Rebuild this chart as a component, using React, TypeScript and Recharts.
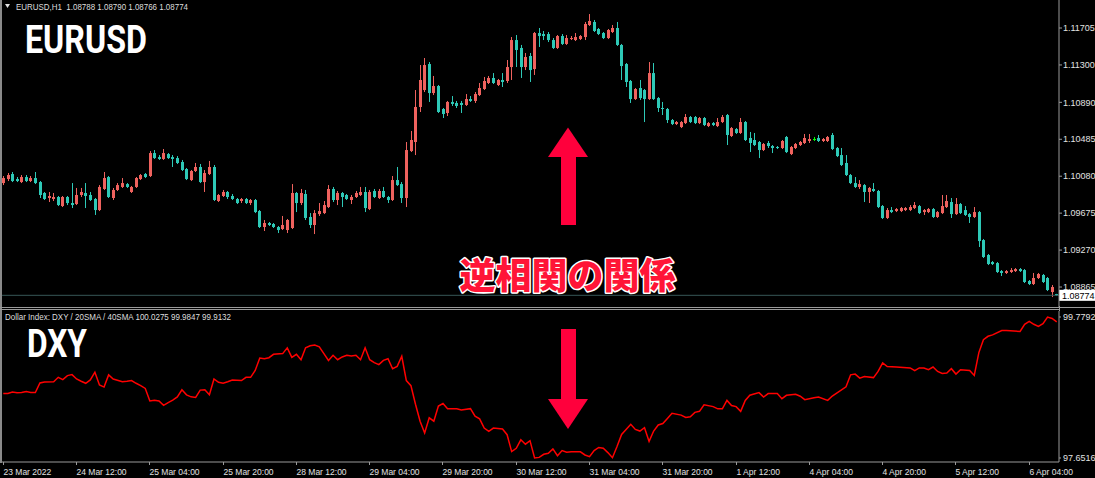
import React from 'react';
import { ComposedChart, Bar, XAxis, YAxis, ReferenceLine, LineChart, Line } from 'recharts';

// EURUSD H1, 23 Mar 20:00 -> 6 Apr (one value per bar)
const opens = [
  1.10005, 1.10049, 1.10104, 1.10049, 1.10016, 1.10071, 1.10027, 1.10060, 1.10016, 1.09896,
  1.09841, 1.09830, 1.09852, 1.09753, 1.09852, 1.09786, 1.09775, 1.09874, 1.09896, 1.09874,
  1.09830, 1.09709, 1.09940, 1.10071, 1.09841, 1.09929, 1.09962, 1.09994, 1.09907, 1.09962,
  1.10049, 1.10104, 1.10082, 1.10334, 1.10290, 1.10269, 1.10323, 1.10290, 1.10279, 1.10236,
  1.10159, 1.10038, 1.10137, 1.10181, 1.10016, 1.10104, 1.10181, 1.09808, 1.09863, 1.09907,
  1.09863, 1.09830, 1.09808, 1.09830, 1.09786, 1.09819, 1.09698, 1.09523, 1.09567, 1.09556,
  1.09523, 1.09501, 1.09490, 1.09512, 1.09896, 1.09786, 1.09885, 1.09633, 1.09545, 1.09665,
  1.09676, 1.09742, 1.09940, 1.09819, 1.09896, 1.09874, 1.09819, 1.09852, 1.09874, 1.09907,
  1.09720, 1.09918, 1.09841, 1.09918, 1.09852, 1.09819, 1.10038, 1.09994, 1.09841, 1.10356,
  1.10455, 1.10839, 1.11025, 1.11310, 1.10992, 1.11069, 1.10817, 1.10773, 1.10894, 1.10883,
  1.10883, 1.10861, 1.10926, 1.10905, 1.10970, 1.11036, 1.11102, 1.11157, 1.11080, 1.11135,
  1.11124, 1.11277, 1.11573, 1.11486, 1.11277, 1.11398, 1.11255, 1.11650, 1.11639, 1.11639,
  1.11573, 1.11486, 1.11617, 1.11530, 1.11584, 1.11573, 1.11584, 1.11606, 1.11738, 1.11771,
  1.11694, 1.11650, 1.11595, 1.11661, 1.11705, 1.11519, 1.11310, 1.11124, 1.10926, 1.11047,
  1.11025, 1.10926, 1.11211, 1.10937, 1.10828, 1.10817, 1.10696, 1.10652, 1.10619, 1.10663,
  1.10729, 1.10729, 1.10663, 1.10718, 1.10630, 1.10663, 1.10630, 1.10674, 1.10751, 1.10521,
  1.10597, 1.10554, 1.10674, 1.10499, 1.10477, 1.10455, 1.10367, 1.10444, 1.10411, 1.10400,
  1.10389, 1.10510, 1.10323, 1.10389, 1.10422, 1.10444, 1.10466, 1.10488, 1.10499, 1.10466,
  1.10466, 1.10532, 1.10389, 1.10312, 1.10225, 1.10093, 1.10005, 1.09962, 1.09983, 1.09907,
  1.09940, 1.09918, 1.09753, 1.09622, 1.09709, 1.09698, 1.09698, 1.09709, 1.09709, 1.09731,
  1.09753, 1.09687, 1.09687, 1.09720, 1.09633, 1.09676, 1.09742, 1.09797, 1.09665, 1.09775,
  1.09709, 1.09665, 1.09633, 1.09687, 1.09380, 1.09216, 1.09139, 1.09128, 1.09040, 1.09019,
  1.09030, 1.09040, 1.09062, 1.09051, 1.08931, 1.08898, 1.08964, 1.08997, 1.08964, 1.08810,
  1.08788,
];
const highs = [
  1.10082, 1.10115, 1.10126, 1.10071, 1.10093, 1.10093, 1.10082, 1.10126, 1.10027, 1.09907,
  1.09907, 1.09896, 1.09863, 1.09863, 1.09863, 1.10005, 1.09951, 1.09951, 1.10005, 1.09907,
  1.09841, 1.09983, 1.10126, 1.10082, 1.09951, 1.10005, 1.10060, 1.10005, 1.09973, 1.10071,
  1.10104, 1.10115, 1.10356, 1.10367, 1.10312, 1.10378, 1.10334, 1.10312, 1.10301, 1.10258,
  1.10170, 1.10148, 1.10225, 1.10214, 1.10148, 1.10247, 1.10203, 1.09885, 1.09929, 1.09918,
  1.09885, 1.09841, 1.09841, 1.09841, 1.09830, 1.09830, 1.09709, 1.09600, 1.09578, 1.09567,
  1.09534, 1.09644, 1.09611, 1.09994, 1.09907, 1.09940, 1.09929, 1.09676, 1.09709, 1.09786,
  1.09808, 1.09983, 1.09962, 1.09918, 1.09907, 1.09885, 1.09874, 1.09918, 1.09962, 1.09962,
  1.09929, 1.09940, 1.09940, 1.09962, 1.09863, 1.10082, 1.10181, 1.10016, 1.10455, 1.10576,
  1.11025, 1.11299, 1.11376, 1.11332, 1.11179, 1.11080, 1.10828, 1.10905, 1.10959, 1.10905,
  1.10905, 1.10981, 1.10959, 1.11003, 1.11102, 1.11168, 1.11179, 1.11211, 1.11146, 1.11211,
  1.11354, 1.11606, 1.11628, 1.11519, 1.11431, 1.11431, 1.11661, 1.11705, 1.11672, 1.11661,
  1.11595, 1.11628, 1.11639, 1.11628, 1.11617, 1.11650, 1.11628, 1.11771, 1.11858, 1.11793,
  1.11705, 1.11661, 1.11694, 1.11738, 1.11771, 1.11530, 1.11321, 1.11135, 1.11047, 1.11135,
  1.11036, 1.11332, 1.11321, 1.10948, 1.10894, 1.10828, 1.10707, 1.10685, 1.10685, 1.10762,
  1.10740, 1.10740, 1.10729, 1.10729, 1.10674, 1.10674, 1.10718, 1.10751, 1.10762, 1.10619,
  1.10608, 1.10718, 1.10685, 1.10565, 1.10554, 1.10466, 1.10444, 1.10466, 1.10422, 1.10411,
  1.10477, 1.10521, 1.10411, 1.10444, 1.10466, 1.10543, 1.10543, 1.10510, 1.10532, 1.10499,
  1.10521, 1.10554, 1.10400, 1.10389, 1.10312, 1.10104, 1.10071, 1.10038, 1.09994, 1.09962,
  1.10005, 1.09929, 1.09764, 1.09731, 1.09742, 1.09731, 1.09742, 1.09742, 1.09764, 1.09797,
  1.09764, 1.09720, 1.09731, 1.09731, 1.09698, 1.09874, 1.09874, 1.09841, 1.09841, 1.09786,
  1.09753, 1.09676, 1.09742, 1.09698, 1.09391, 1.09227, 1.09150, 1.09139, 1.09051, 1.09051,
  1.09073, 1.09073, 1.09073, 1.09062, 1.08942, 1.09019, 1.09019, 1.09008, 1.08975, 1.08887,
  1.08790,
];
const lows = [
  1.09983, 1.10027, 1.10016, 1.10016, 1.10005, 1.10016, 1.10016, 1.09994, 1.09841, 1.09819,
  1.09797, 1.09808, 1.09753, 1.09742, 1.09764, 1.09731, 1.09764, 1.09852, 1.09731, 1.09808,
  1.09655, 1.09698, 1.09929, 1.09841, 1.09819, 1.09918, 1.09951, 1.09951, 1.09896, 1.09951,
  1.10038, 1.10060, 1.10071, 1.10269, 1.10258, 1.10258, 1.10269, 1.10181, 1.10214, 1.10137,
  1.10038, 1.10027, 1.10126, 1.10005, 1.09907, 1.10093, 1.09808, 1.09797, 1.09852, 1.09830,
  1.09819, 1.09775, 1.09786, 1.09775, 1.09764, 1.09676, 1.09512, 1.09479, 1.09534, 1.09512,
  1.09457, 1.09490, 1.09457, 1.09501, 1.09687, 1.09764, 1.09600, 1.09512, 1.09446, 1.09644,
  1.09665, 1.09731, 1.09797, 1.09764, 1.09742, 1.09819, 1.09775, 1.09841, 1.09863, 1.09687,
  1.09709, 1.09841, 1.09830, 1.09841, 1.09786, 1.09808, 1.09973, 1.09786, 1.09742, 1.10345,
  1.10312, 1.10784, 1.11003, 1.10894, 1.10970, 1.10773, 1.10718, 1.10740, 1.10850, 1.10828,
  1.10773, 1.10850, 1.10894, 1.10883, 1.10959, 1.11025, 1.11091, 1.11091, 1.11069, 1.11058,
  1.11102, 1.11135, 1.11277, 1.11157, 1.11244, 1.11113, 1.11190, 1.11497, 1.11573, 1.11551,
  1.11475, 1.11475, 1.11519, 1.11519, 1.11573, 1.11562, 1.11573, 1.11573, 1.11727, 1.11661,
  1.11628, 1.11584, 1.11584, 1.11650, 1.11508, 1.11135, 1.11058, 1.10883, 1.10916, 1.10916,
  1.10674, 1.10916, 1.10916, 1.10784, 1.10751, 1.10663, 1.10641, 1.10641, 1.10608, 1.10652,
  1.10663, 1.10652, 1.10652, 1.10630, 1.10619, 1.10630, 1.10619, 1.10663, 1.10422, 1.10510,
  1.10543, 1.10543, 1.10466, 1.10345, 1.10411, 1.10279, 1.10356, 1.10389, 1.10334, 1.10378,
  1.10378, 1.10334, 1.10312, 1.10378, 1.10411, 1.10433, 1.10444, 1.10466, 1.10455, 1.10455,
  1.10455, 1.10367, 1.10290, 1.10192, 1.10082, 1.09994, 1.09951, 1.09940, 1.09797, 1.09786,
  1.09907, 1.09731, 1.09611, 1.09611, 1.09676, 1.09687, 1.09687, 1.09698, 1.09698, 1.09720,
  1.09665, 1.09655, 1.09676, 1.09622, 1.09622, 1.09665, 1.09731, 1.09622, 1.09655, 1.09665,
  1.09644, 1.09567, 1.09622, 1.09304, 1.09183, 1.09106, 1.09106, 1.09019, 1.08986, 1.09008,
  1.09019, 1.09030, 1.09030, 1.08909, 1.08887, 1.08887, 1.08953, 1.08909, 1.08821, 1.08755,
  1.08766,
];
const closes = [
  1.10060, 1.10093, 1.10027, 1.10027, 1.10071, 1.10027, 1.10060, 1.10005, 1.09874, 1.09830,
  1.09863, 1.09852, 1.09764, 1.09852, 1.09786, 1.09764, 1.09874, 1.09907, 1.09863, 1.09819,
  1.09709, 1.09962, 1.10060, 1.09852, 1.09929, 1.09983, 1.10005, 1.09962, 1.09962, 1.10060,
  1.10093, 1.10071, 1.10334, 1.10279, 1.10269, 1.10334, 1.10279, 1.10269, 1.10225, 1.10148,
  1.10049, 1.10137, 1.10181, 1.10016, 1.10115, 1.10181, 1.09819, 1.09874, 1.09907, 1.09852,
  1.09830, 1.09786, 1.09830, 1.09786, 1.09819, 1.09687, 1.09523, 1.09567, 1.09545, 1.09523,
  1.09490, 1.09545, 1.09600, 1.09896, 1.09786, 1.09896, 1.09622, 1.09545, 1.09676, 1.09698,
  1.09764, 1.09940, 1.09819, 1.09896, 1.09852, 1.09830, 1.09852, 1.09896, 1.09907, 1.09731,
  1.09907, 1.09852, 1.09918, 1.09852, 1.09819, 1.10038, 1.09983, 1.09841, 1.10367, 1.10477,
  1.10839, 1.11135, 1.11299, 1.10992, 1.11069, 1.10784, 1.10762, 1.10894, 1.10872, 1.10850,
  1.10861, 1.10926, 1.10905, 1.10981, 1.11047, 1.11124, 1.11157, 1.11102, 1.11135, 1.11113,
  1.11277, 1.11573, 1.11464, 1.11277, 1.11387, 1.11244, 1.11650, 1.11617, 1.11617, 1.11573,
  1.11486, 1.11617, 1.11530, 1.11595, 1.11595, 1.11606, 1.11617, 1.11749, 1.11782, 1.11672,
  1.11639, 1.11595, 1.11683, 1.11705, 1.11519, 1.11288, 1.11113, 1.10926, 1.11036, 1.10937,
  1.10926, 1.11211, 1.10926, 1.10828, 1.10817, 1.10696, 1.10652, 1.10674, 1.10674, 1.10729,
  1.10674, 1.10663, 1.10718, 1.10641, 1.10663, 1.10641, 1.10674, 1.10729, 1.10532, 1.10608,
  1.10554, 1.10674, 1.10477, 1.10444, 1.10422, 1.10367, 1.10433, 1.10411, 1.10389, 1.10389,
  1.10466, 1.10345, 1.10400, 1.10433, 1.10455, 1.10499, 1.10488, 1.10488, 1.10466, 1.10488,
  1.10510, 1.10378, 1.10301, 1.10203, 1.10093, 1.10005, 1.09962, 1.09994, 1.09907, 1.09951,
  1.09918, 1.09742, 1.09622, 1.09709, 1.09687, 1.09720, 1.09731, 1.09731, 1.09742, 1.09764,
  1.09676, 1.09709, 1.09720, 1.09633, 1.09687, 1.09753, 1.09808, 1.09665, 1.09775, 1.09676,
  1.09655, 1.09633, 1.09687, 1.09369, 1.09194, 1.09117, 1.09117, 1.09030, 1.09019, 1.09040,
  1.09051, 1.09062, 1.09040, 1.08920, 1.08898, 1.08964, 1.09008, 1.08920, 1.08832, 1.08865,
  1.08774,
];

// DXY: bar index and value at the vertices of the line
const dxyBars = [
  0, 1, 2, 3, 4, 5, 6, 7, 8, 9, 11, 12, 13, 14, 15, 16, 17, 18, 19, 20,
  21, 22, 23, 24, 26, 27, 28, 29, 30, 31, 32, 33, 34, 35, 36, 37, 38, 39, 40, 41,
  42, 43, 44, 45, 46, 47, 48, 49, 50, 52, 53, 54, 55, 56, 57, 58, 59, 61, 62, 63,
  64, 65, 66, 67, 68, 69, 70, 71, 72, 73, 74, 75, 76, 77, 78, 79, 80, 81, 82, 83,
  84, 85, 86, 87, 88, 89, 90, 91, 92, 93, 94, 95, 96, 97, 98, 99, 100, 102, 103, 104,
  105, 106, 107, 109, 110, 111, 112, 113, 114, 115, 116, 117, 118, 119, 120, 121, 122, 123, 124, 126,
  127, 128, 129, 130, 131, 132, 133, 134, 135, 137, 138, 139, 140, 141, 142, 143, 144, 145, 146, 148,
  149, 150, 151, 152, 153, 155, 156, 157, 158, 159, 160, 161, 162, 163, 165, 166, 167, 169, 170, 171,
  173, 174, 175, 177, 178, 180, 181, 184, 185, 186, 187, 188, 190, 191, 192, 193, 195, 198, 199, 200,
  201, 202, 203, 204, 205, 206, 207, 208, 209, 211, 212, 213, 214, 215, 216, 218, 219, 222, 223, 224,
  225, 226, 227, 228, 229, 230,
];
const dxyValues = [
  98.625, 98.625, 98.646, 98.636, 98.640, 98.655, 98.640, 98.640, 98.783, 98.798, 98.803, 98.869, 98.835, 98.895, 98.910, 98.844, 98.809, 98.779, 98.829, 98.946,
  98.753, 98.722, 98.906, 98.844, 98.803, 98.809, 98.820, 98.779, 98.743, 98.702, 98.513, 98.524, 98.513, 98.447, 98.488, 98.524, 98.574, 98.681, 98.605, 98.574,
  98.565, 98.676, 98.681, 98.605, 98.844, 98.794, 98.779, 98.803, 98.829, 98.820, 98.869, 98.869, 98.972, 99.161, 99.150, 99.165, 99.216, 99.227, 99.314, 99.171,
  99.216, 99.135, 99.314, 99.345, 99.355, 99.330, 99.227, 99.124, 99.201, 99.135, 99.176, 99.201, 99.191, 99.201, 99.135, 99.314, 99.135, 99.090, 99.060, 99.124,
  99.150, 98.998, 99.034, 99.186, 98.820, 98.743, 98.462, 98.207, 98.029, 98.258, 98.207, 98.436, 98.473, 98.396, 98.396, 98.396, 98.376, 98.396, 98.284, 98.243,
  98.104, 98.055, 98.104, 98.089, 98.003, 97.748, 97.798, 97.926, 97.860, 97.913, 97.652, 97.661, 97.708, 97.723, 97.789, 97.686, 97.763, 97.738, 97.744, 97.744,
  97.697, 97.671, 97.763, 97.810, 97.800, 97.733, 97.656, 97.825, 98.006, 98.160, 98.083, 98.058, 98.109, 97.902, 98.058, 98.150, 98.171, 98.248, 98.325, 98.299,
  98.263, 98.273, 98.340, 98.356, 98.454, 98.427, 98.393, 98.393, 98.521, 98.444, 98.427, 98.356, 98.521, 98.598, 98.638, 98.572, 98.623, 98.623, 98.546, 98.598,
  98.613, 98.583, 98.531, 98.562, 98.572, 98.521, 98.587, 98.726, 98.907, 98.918, 98.856, 98.881, 98.865, 98.958, 99.087, 99.031, 99.025, 99.010, 98.969, 99.010,
  99.010, 98.984, 99.025, 98.958, 98.927, 98.933, 98.999, 98.918, 98.984, 98.973, 98.897, 99.242, 99.437, 99.488, 99.509, 99.576, 99.576, 99.560, 99.669, 99.714,
  99.669, 99.637, 99.680, 99.779, 99.757, 99.705,
];

const priceTicks = [1.08865, 1.0927, 1.09675, 1.1008, 1.10485, 1.1089, 1.113, 1.11705];
const dxyTicks = [97.6516, 99.7792];
const timeTicks = [0, 16, 32, 48, 64, 80, 96, 112, 128, 144, 160, 176, 192, 208, 224];
const timeLabels = [
  '23 Mar 2022', '24 Mar 12:00', '25 Mar 04:00', '25 Mar 20:00', '28 Mar 12:00',
  '29 Mar 04:00', '29 Mar 20:00', '30 Mar 12:00', '31 Mar 04:00', '31 Mar 20:00',
  '1 Apr 12:00', '4 Apr 04:00', '4 Apr 20:00', '5 Apr 12:00', '6 Apr 04:00',
];
const lastPrice = 1.08774;

const UP = '#ef625e';
const DOWN = '#2ec9b7';
const AXIS = '#9a9a9a';
const LABEL = '#e2e2e2';
const FONT = '"Liberation Sans", Arial, sans-serif';

const candles = opens.map((o, i) => ({
  i, o, h: highs[i], l: lows[i], c: closes[i], range: [lows[i], highs[i]],
}));
const dxy = dxyBars.map((i, k) => ({ i, v: dxyValues[k] }));

const Candle = (props: any) => {
  const { x, y, width, height, payload } = props;
  const { o, h, l, c } = payload;
  const span = h - l || 1;
  const py = (v: number) => y + ((h - v) / span) * height;
  const top = py(Math.max(o, c));
  const bot = py(Math.min(o, c));
  const color = c > o ? UP : c < o ? DOWN : '#00ff00';
  const cx = Math.floor(x + width / 2);
  return (
    <g>
      <line x1={cx + 0.5} x2={cx + 0.5} y1={y} y2={y + height} stroke={color} strokeWidth={1} />
      <rect x={cx - 1} y={top} width={3} height={Math.max(1, bot - top)} fill={color} />
    </g>
  );
};

const TimeTick = ({ x, y, payload }: any) => {
  const k = timeTicks.indexOf(payload.value);
  const tx = Math.floor(x) + 0.5;
  return (
    <g>
      <line x1={tx} x2={tx} y1={y} y2={y + 3} stroke={AXIS} />
      <text x={tx} y={y + 13} fill={LABEL} fontSize={8.5} fontFamily={FONT}>{timeLabels[k]}</text>
    </g>
  );
};

const PriceTag = ({ viewBox }: any) => {
  const x = viewBox.x + viewBox.width;
  const y = viewBox.y;
  return (
    <g>
      <rect x={x} y={y - 5.5} width={36} height={11} fill="#ffffff" />
      <text x={x + 3} y={y + 3.5} fill="#000" fontSize={9} fontFamily={FONT}>{lastPrice.toFixed(5)}</text>
    </g>
  );
};

export default function App() {
  return (
    <div style={{ position: 'relative', width: 1095, height: 478, background: '#000', overflow: 'hidden' }}>
      <style>{'body{margin:0;background:#000}'}</style>

      <div style={{ position: 'absolute', left: 0, top: 0 }}>
        <ComposedChart width={1095} height={307} data={candles} margin={{ top: 0, right: 1, bottom: 0, left: 1 }}>
          <XAxis dataKey="i" hide />
          <YAxis
            orientation="right" type="number" width={35}
            domain={[1.08646, 1.12012]} allowDataOverflow
            ticks={priceTicks} interval={0}
            tickFormatter={(v: number) => v.toFixed(5)}
            tick={{ fill: LABEL, fontSize: 9, fontFamily: FONT }}
            tickSize={3} tickMargin={1}
            axisLine={{ stroke: AXIS }} tickLine={{ stroke: AXIS }}
          />
          <ReferenceLine y={lastPrice} stroke="#365656" strokeWidth={1} label={<PriceTag />} />
          <Bar dataKey="range" shape={<Candle />} isAnimationActive={false} />
        </ComposedChart>
      </div>

      <div style={{ position: 'absolute', left: 0, top: 309 }}>
        <LineChart width={1095} height={169} data={dxy} margin={{ top: 2, right: 1, bottom: 0, left: 1 }}>
          <XAxis
            dataKey="i" type="number" domain={[-0.5, 230.5]} allowDataOverflow
            ticks={timeTicks} interval={0} height={16}
            tickSize={0} tickMargin={0} tickLine={false}
            tick={<TimeTick />} axisLine={{ stroke: AXIS }}
          />
          <YAxis
            orientation="right" type="number" width={35}
            domain={[97.5912, 99.8697]} allowDataOverflow
            ticks={dxyTicks} interval={0}
            tickFormatter={(v: number) => v.toFixed(4)}
            tick={{ fill: LABEL, fontSize: 9, fontFamily: FONT }}
            tickSize={2} tickMargin={2}
            axisLine={{ stroke: AXIS }} tickLine={{ stroke: AXIS }}
          />
          <Line dataKey="v" type="linear" stroke="#ff0000" strokeWidth={1.5} dot={false} isAnimationActive={false} />
        </LineChart>
      </div>

      <svg width={1095} height={478} style={{ position: 'absolute', left: 0, top: 0, pointerEvents: 'none' }}>
        {/* window frames */}
        <rect x={0} y={0} width={2} height={463} fill="#8a8a8a" />
        <line x1={0} x2={1095} y1={307.5} y2={307.5} stroke={AXIS} />
        <line x1={0} x2={1059.5} y1={309.5} y2={309.5} stroke={AXIS} />
        <line x1={1059.5} x2={1059.5} y1={306} y2={311} stroke={AXIS} />

        {/* headers */}
        <polygon points="5,4 10,4 7.5,8" fill="#e0e0e0" />
        <text x={16} y={9.5} fill="#dedede" fontSize={8.5} fontFamily={FONT} textLength={172} lengthAdjust="spacingAndGlyphs" style={{ whiteSpace: 'pre' }}>
          EURUSD,H1  1.08788 1.08790 1.08766 1.08774
        </text>
        <text x={5} y={319.5} fill="#dedede" fontSize={8.5} fontFamily={FONT} textLength={226} lengthAdjust="spacingAndGlyphs">
          Dollar Index: DXY / 20SMA / 40SMA 100.0275 99.9847 99.9132
        </text>

        {/* big titles */}
        <text x={25} y={53.3} fill="#ffffff" fontSize={39.5} fontWeight={700} fontFamily="Roboto, sans-serif" textLength={122} lengthAdjust="spacingAndGlyphs">EURUSD</text>
        <text x={27} y={357.3} fill="#ffffff" fontSize={39.5} fontWeight={700} fontFamily="Roboto, sans-serif" textLength={60} lengthAdjust="spacingAndGlyphs">DXY</text>

        {/* arrows */}
        <polygon points="568,127.5 548,157 588,157" fill="#ff003c" />
        <rect x={561} y={156} width={15} height={69} fill="#ff003c" />
        <rect x={561} y={329} width={15} height={71} fill="#ff003c" />
        <polygon points="548,399 588,399 568,429" fill="#ff003c" />

        <text
          x={567.5} y={273} textAnchor="middle" dominantBaseline="central"
          fontSize={36} fontWeight={900} fontFamily='"Noto Sans CJK JP", sans-serif'
          fill="#ff1537" stroke="#ffffff" strokeWidth={3} strokeLinejoin="round"
          style={{ paintOrder: 'stroke' }}
        >
          逆相関の関係
        </text>
      </svg>
    </div>
  );
}
